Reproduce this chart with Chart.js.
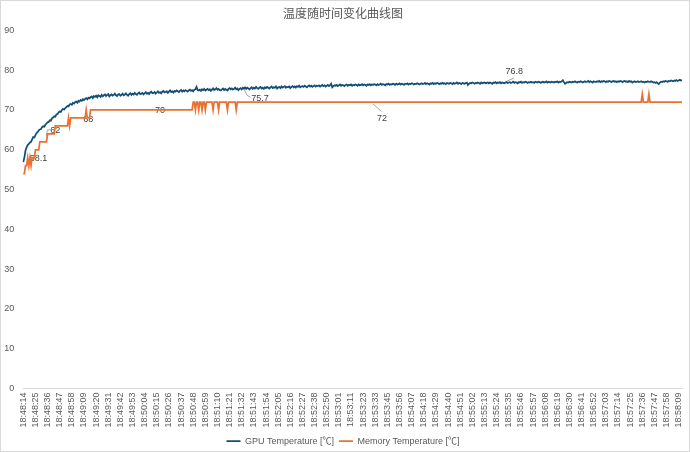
<!DOCTYPE html>
<html>
<head>
<meta charset="utf-8">
<script src="https://cdn.jsdelivr.net/npm/chart.js@4.4.1/dist/chart.umd.min.js"></script>
<style>
  html, body { margin: 0; padding: 0; background: #fff; }
  #wrap { width: 690px; height: 452px; }
</style>
</head>
<body>
<div id="wrap"><canvas id="myChart" width="690" height="452"></canvas></div>
<script>
// tick labels shown on the x axis (one every 11 samples)
const timeTicks = [
  '18:48:14','18:48:25','18:48:36','18:48:47','18:48:58','18:49:09','18:49:20','18:49:31','18:49:42','18:49:53',
  '18:50:04','18:50:15','18:50:26','18:50:37','18:50:48','18:50:59','18:51:10','18:51:21','18:51:32','18:51:43',
  '18:51:54','18:52:05','18:52:16','18:52:27','18:52:38','18:52:50','18:53:01','18:53:11','18:53:23','18:53:33',
  '18:53:45','18:53:56','18:54:07','18:54:18','18:54:29','18:54:40','18:54:51','18:55:02','18:55:13','18:55:24',
  '18:55:35','18:55:46','18:55:57','18:56:08','18:56:19','18:56:30','18:56:41','18:56:52','18:57:03','18:57:14',
  '18:57:25','18:57:36','18:57:47','18:57:58','18:58:09'
];

// GPU temperature, one sample per row step
const gpuTemp = [
  56.9,58.1,59.8,60.6,61.2,61.5,61.8,62.0,62.6,63.2,63.1,63.7,64.2,64.4,64.9,65.1,65.2,65.7,65.9,65.8,
  66.3,66.6,66.9,67.0,67.4,67.3,67.9,68.1,68.4,68.3,68.9,69.0,69.4,69.6,69.5,70.0,70.3,70.1,70.5,70.7,
  71.0,70.9,71.4,71.5,71.3,71.8,71.6,72.0,72.1,71.8,72.3,72.1,72.5,72.3,72.7,72.5,72.8,73.0,72.7,73.1,
  72.9,73.2,73.4,73.0,73.5,73.3,73.6,73.2,73.7,73.5,73.3,73.8,73.4,73.7,73.9,73.5,73.8,74.0,73.4,73.7,
  73.9,73.6,73.8,74.1,73.7,73.5,73.9,74.0,73.6,73.8,74.1,73.7,73.9,74.2,73.8,73.6,74.0,74.2,73.8,74.1,
  73.9,74.3,74.0,73.8,74.2,74.4,74.0,74.1,74.3,73.9,74.2,74.5,74.1,74.3,74.0,74.4,74.6,74.2,74.3,74.5,
  74.1,74.4,74.7,74.3,74.5,74.2,74.6,74.8,74.4,74.5,74.7,74.3,74.6,74.9,74.5,74.7,74.4,74.8,74.6,74.9,
  74.7,74.5,74.8,75.0,74.6,74.9,74.7,75.0,74.8,74.6,74.9,75.1,74.8,75.0,74.7,75.1,75.2,75.8,75.0,74.9,
  75.1,74.8,75.2,75.0,75.3,74.9,75.1,75.3,75.0,75.2,74.8,75.1,75.4,75.0,75.2,75.5,75.1,75.3,75.0,74.9,
  75.2,75.4,75.0,75.3,75.1,74.9,75.3,75.5,75.2,75.4,75.1,75.3,75.6,75.2,75.4,75.0,75.3,75.5,75.2,75.6,
  75.4,75.7,75.3,75.6,75.4,75.2,75.5,75.7,75.3,75.6,75.4,75.8,75.5,75.3,75.6,75.8,75.4,75.6,75.3,75.7,
  75.5,75.8,75.6,75.4,75.7,75.9,75.5,75.7,75.6,75.9,75.4,75.7,75.8,75.5,75.9,75.6,75.8,76.0,75.6,75.8,
  75.7,75.9,75.5,75.8,76.0,75.7,75.9,75.6,76.0,75.8,76.1,75.7,75.9,76.0,75.8,76.1,75.9,75.7,76.0,76.2,
  75.9,76.1,75.8,76.0,76.2,75.9,76.1,76.0,76.2,75.9,76.1,76.3,76.0,76.2,75.9,76.1,76.3,76.0,76.2,76.6,
  75.7,76.0,76.2,76.1,76.3,76.0,76.2,76.4,76.1,76.3,76.2,76.0,76.3,76.4,76.1,76.3,76.2,76.4,76.1,76.3,
  76.2,76.4,76.3,76.1,76.4,76.2,76.3,76.5,76.2,76.4,76.3,76.1,76.4,76.3,76.5,76.2,76.4,76.3,76.5,76.4,
  76.2,76.5,76.3,76.4,76.6,76.3,76.5,76.4,76.2,76.5,76.4,76.6,76.3,76.5,76.4,76.6,76.5,76.3,76.6,76.4,
  76.5,76.7,76.4,76.6,76.5,76.3,76.6,76.5,76.7,76.4,76.6,76.5,76.7,76.6,76.4,76.6,76.5,76.7,76.6,76.4,
  76.6,76.7,76.5,76.6,76.8,76.5,76.7,76.6,76.4,76.7,76.6,76.8,76.5,76.7,76.6,76.8,76.7,76.5,76.7,76.6,
  76.8,76.6,76.7,76.5,76.8,76.7,76.6,76.8,76.7,76.5,76.8,76.6,76.7,76.9,76.6,76.8,76.7,76.5,76.8,76.7,
  76.6,76.8,76.9,76.3,76.6,76.8,76.7,76.9,76.8,76.6,76.8,76.7,76.9,76.8,76.6,76.9,76.7,76.8,76.9,76.7,
  76.8,76.9,76.7,76.9,76.8,76.6,76.9,76.8,77.0,76.7,76.9,76.8,77.0,76.7,76.9,76.8,76.7,76.9,77.0,76.8,
  76.9,77.0,76.8,76.9,77.1,76.8,77.0,76.9,76.7,77.0,76.9,77.1,76.8,77.0,76.9,77.1,77.0,76.8,77.0,76.9,
  77.1,76.9,77.0,76.8,77.1,77.0,76.9,77.1,77.0,76.8,77.0,77.1,76.9,77.0,77.2,76.9,77.1,77.0,76.9,77.1,
  77.0,76.9,77.1,77.0,77.2,76.9,77.1,77.0,77.2,77.5,77.0,76.6,76.8,77.0,76.9,77.1,77.0,76.9,77.1,77.0,
  77.2,77.0,76.9,77.1,77.0,77.2,77.1,76.9,77.1,77.2,77.0,77.1,77.3,77.0,77.2,77.1,76.9,77.2,77.1,77.0,
  77.2,77.1,77.3,77.0,77.2,77.1,77.3,77.2,77.0,77.2,77.1,77.3,77.2,77.0,77.2,77.3,77.1,77.2,77.0,77.2,
  77.1,77.3,77.2,77.0,77.2,77.3,77.1,77.2,77.0,77.3,77.1,77.2,76.9,77.1,77.2,77.0,77.1,77.2,77.0,77.1,
  77.2,77.0,77.1,76.9,77.1,77.0,77.2,77.1,77.0,77.2,77.1,76.9,77.0,76.8,77.0,76.7,76.5,76.9,77.1,77.0,
  77.2,77.1,77.3,77.2,77.1,77.3,77.2,77.4,77.3,77.2,77.4,77.3,77.5,77.3,77.4,77.6,77.4,77.5
];

// memory temperature, same samples
const memTemp = [
  54,54,56,56,58,56,58,56,58,58,58,60,60,60,60,62,62,62,62,62,
  62,62,64,64,64,64,64,64,64,66,66,66,66,66,66,66,66,66,66,66,
  66,68,66,68,68,68,68,68,68,68,68,68,68,68,68,68,68,70,68,68,
  68,70,70,70,70,70,70,70,70,70,70,70,70,70,70,70,70,70,70,70,
  70,70,70,70,70,70,70,70,70,70,70,70,70,70,70,70,70,70,70,70,
  70,70,70,70,70,70,70,70,70,70,70,70,70,70,70,70,70,70,70,70,
  70,70,70,70,70,70,70,70,70,70,70,70,70,70,70,70,70,70,70,70,
  70,70,70,70,70,70,70,70,70,70,70,70,70,70,72,72,70,72,72,70,
  72,72,70,72,72,70,72,72,72,72,72,72,70,72,72,72,72,70,72,72,
  72,72,72,72,72,70,72,72,72,72,72,72,72,70,72,72,72,72,72,72,
  72,72,72,72,72,72,72,72,72,72,72,72,72,72,72,72,72,72,72,72,
  72,72,72,72,72,72,72,72,72,72,72,72,72,72,72,72,72,72,72,72,
  72,72,72,72,72,72,72,72,72,72,72,72,72,72,72,72,72,72,72,72,
  72,72,72,72,72,72,72,72,72,72,72,72,72,72,72,72,72,72,72,72,
  72,72,72,72,72,72,72,72,72,72,72,72,72,72,72,72,72,72,72,72,
  72,72,72,72,72,72,72,72,72,72,72,72,72,72,72,72,72,72,72,72,
  72,72,72,72,72,72,72,72,72,72,72,72,72,72,72,72,72,72,72,72,
  72,72,72,72,72,72,72,72,72,72,72,72,72,72,72,72,72,72,72,72,
  72,72,72,72,72,72,72,72,72,72,72,72,72,72,72,72,72,72,72,72,
  72,72,72,72,72,72,72,72,72,72,72,72,72,72,72,72,72,72,72,72,
  72,72,72,72,72,72,72,72,72,72,72,72,72,72,72,72,72,72,72,72,
  72,72,72,72,72,72,72,72,72,72,72,72,72,72,72,72,72,72,72,72,
  72,72,72,72,72,72,72,72,72,72,72,72,72,72,72,72,72,72,72,72,
  72,72,72,72,72,72,72,72,72,72,72,72,72,72,72,72,72,72,72,72,
  72,72,72,72,72,72,72,72,72,72,72,72,72,72,72,72,72,72,72,72,
  72,72,72,72,72,72,72,72,72,72,72,72,72,72,72,72,72,72,72,72,
  72,72,72,72,72,72,72,72,72,72,72,72,72,72,72,72,72,72,72,72,
  72,72,72,72,72,72,72,72,72,72,72,72,72,72,72,72,72,72,72,72,
  72,74,72,72,72,72,72,74,72,72,72,72,72,72,72,72,72,72,72,72,
  72,72,72,72,72,72,72,72,72,72,72,72,72,72,72,72,72,72
];

// which points carry a data label (dataset, sample index)
const labelPoints = [
  { ds: 0, idx: 1,   dx: 14, dy: 1,    leader: null },
  { ds: 1, idx: 20,  dx: 10, dy: -11,  leader: [[1, -6], [2, -12], [5, -12]] },
  { ds: 1, idx: 58,  dx: 1,  dy: 1.5,  leader: null },
  { ds: 1, idx: 124, dx: 0,  dy: 1,    leader: null },
  { ds: 0, idx: 201, dx: 15, dy: 11,   leader: [[-1.5, 1], [2, 8], [5.5, 10]] },
  { ds: 1, idx: 317, dx: 9,  dy: 16,   leader: [[0, 2], [8.5, 9.5]] },
  { ds: 0, idx: 435, dx: 11, dy: -11.5, leader: [[2, -1], [11, -5]] }
];

const labels = gpuTemp.map((v, i) => (i % 11 === 0 && timeTicks[i / 11]) ? timeTicks[i / 11] : '');

Chart.defaults.font.family = "'Liberation Sans', 'Noto Sans CJK SC', sans-serif";
Chart.defaults.color = '#595959';

// white background + thin frame round the chart
const framePlugin = {
  id: 'frame',
  beforeDraw(chart) {
    const c = chart.ctx;
    c.save();
    c.fillStyle = '#fff';
    c.fillRect(0, 0, chart.width, chart.height);
    c.strokeStyle = '#d9d9d9';
    c.lineWidth = 1;
    c.strokeRect(0.5, 0.5, chart.width - 1, chart.height - 1);
    c.restore();
  }
};

// data labels with short leader lines
const pointLabels = {
  id: 'pointLabels',
  beforeDatasetsDraw(chart) {
    const c = chart.ctx;
    c.save();
    c.font = "9px 'Liberation Sans', sans-serif";
    c.textAlign = 'center';
    c.textBaseline = 'middle';
    labelPoints.forEach(p => {
      const el = chart.getDatasetMeta(p.ds).data[p.idx];
      const val = chart.data.datasets[p.ds].data[p.idx];
      if (p.leader) {
        c.strokeStyle = '#a6a6a6';
        c.lineWidth = 1;
        c.beginPath();
        p.leader.forEach((o, k) => {
          if (k === 0) c.moveTo(el.x + o[0], el.y + o[1]);
          else c.lineTo(el.x + o[0], el.y + o[1]);
        });
        c.stroke();
      }
      c.fillStyle = '#404040';
      c.fillText(String(val), el.x + p.dx, el.y + p.dy);
    });
    c.restore();
  }
};

const data = {
  labels: labels,
  datasets: [{
    label: 'GPU Temperature [℃]',
    data: gpuTemp,
    borderColor: '#134f74',
    backgroundColor: '#134f74',
    borderWidth: 1.75,
    pointRadius: 0,
    pointStyle: 'line',
    tension: 0
  }, {
    label: 'Memory Temperature [℃]',
    data: memTemp,
    borderColor: '#e97132',
    backgroundColor: '#e97132',
    borderWidth: 1.75,
    pointRadius: 0,
    pointStyle: 'line',
    tension: 0
  }]
};

const config = {
  type: 'line',
  data: data,
  options: {
    responsive: false,
    animation: false,
    devicePixelRatio: 1,
    layout: { padding: { left: 4, right: 8, top: 0, bottom: 0 } },
    scales: {
      x: {
        grid: { display: false, drawTicks: false },
        border: { display: true, color: '#d9d9d9' },
        ticks: { autoSkip: false, maxRotation: 90, minRotation: 90, padding: 4, font: { size: 9 } },
        afterFit(scale) {
          scale.paddingLeft = 0;
          scale.paddingRight = 0;
        }
      },
      y: {
        min: 0,
        max: 90,
        grid: { display: false, drawTicks: false },
        border: { display: false },
        ticks: { stepSize: 10, padding: 9, font: { size: 9 } },
        afterFit(scale) {
          scale.width = 19.3;
        }
      }
    },
    plugins: {
      title: {
        display: true,
        text: '温度随时间变化曲线图',
        font: { size: 12, weight: 'normal', family: "'Noto Sans CJK SC', sans-serif" },
        padding: { top: 6, bottom: 10 }
      },
      legend: {
        position: 'bottom',
        maxHeight: 20.4,
        labels: { usePointStyle: true, pointStyleWidth: 14, font: { size: 9 }, padding: 5 }
      },
      tooltip: { enabled: false }
    }
  },
  plugins: [framePlugin, pointLabels]
};

const myChart = new Chart(document.getElementById('myChart'), config);
</script>
</body>
</html>
